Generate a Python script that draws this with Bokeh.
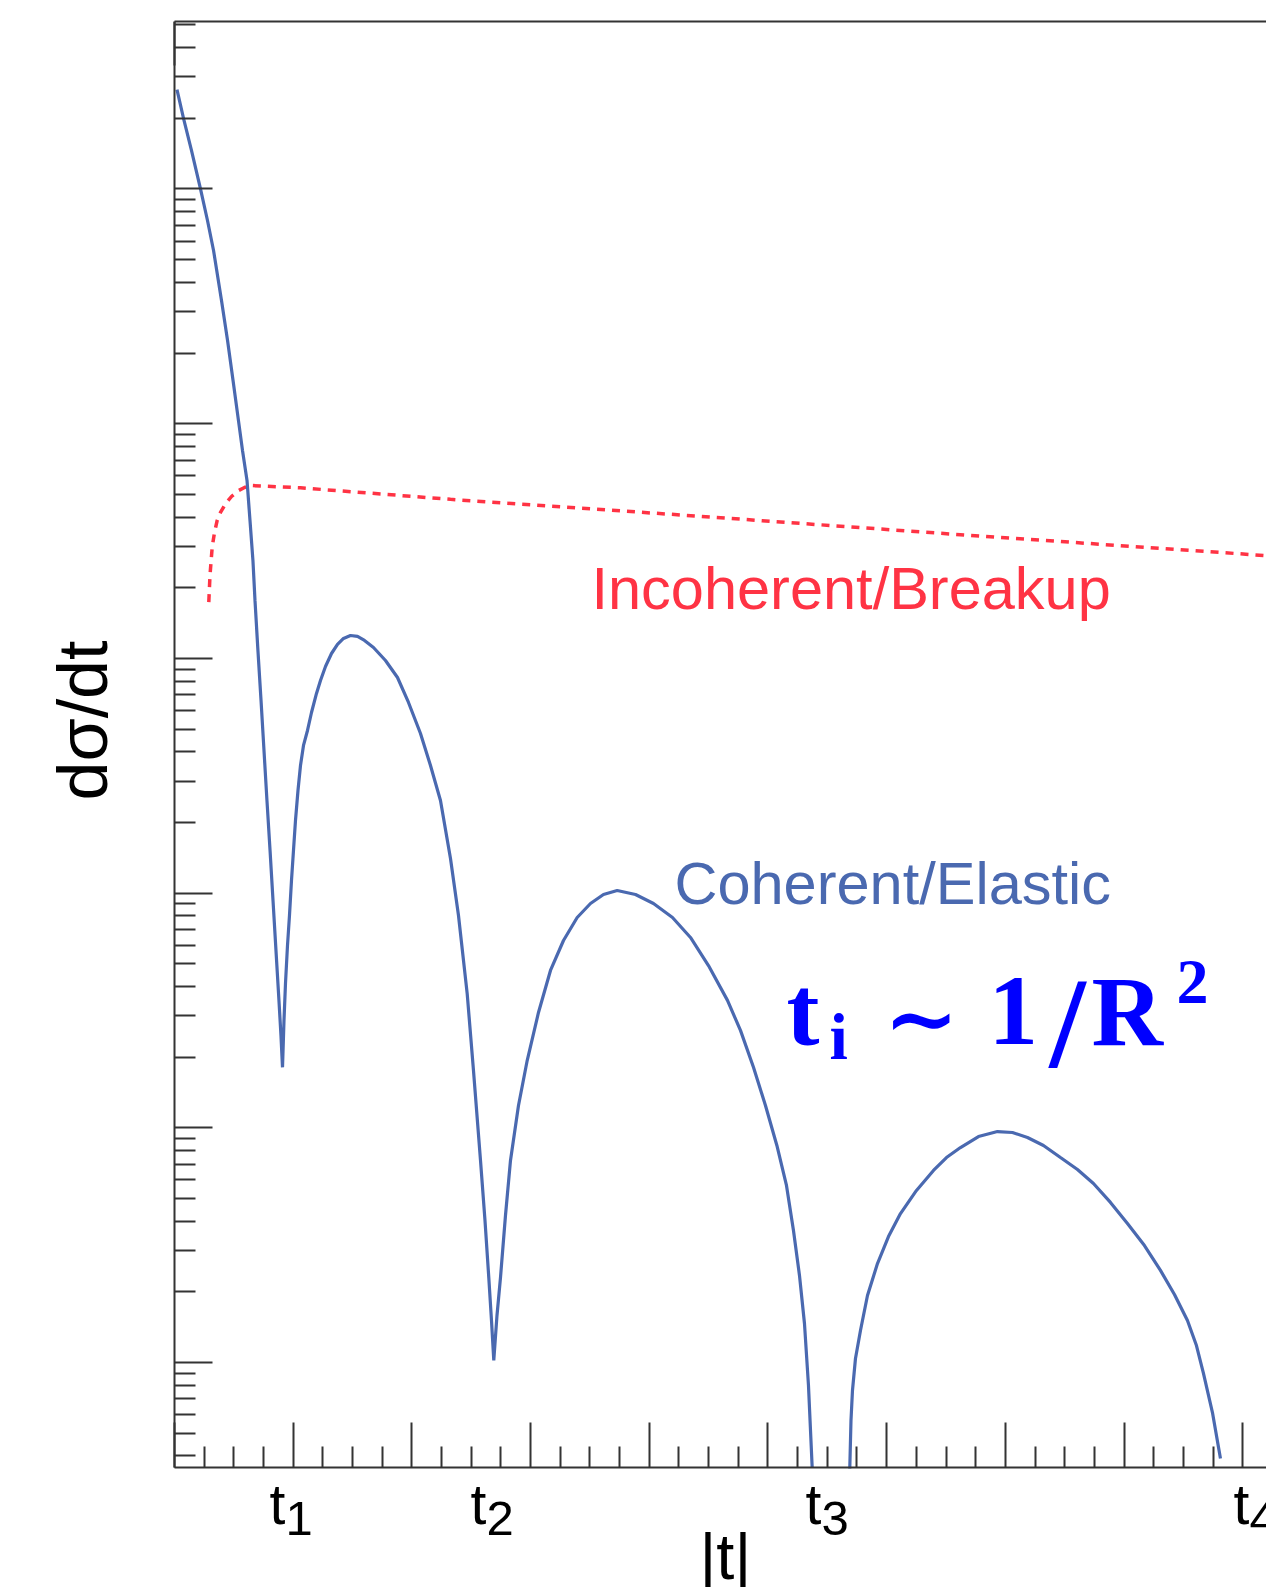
import math
from bokeh.plotting import figure
from bokeh.models import Range1d, FixedTicker, CustomJSTickFormatter, LinearAxis, Label
from bokeh.core.properties import value
from bokeh.embed import file_html
from bokeh.resources import INLINE

# Momentum transfer |t| in arbitrary units (one major tick per unit)
# and dσ/dt in arbitrary units on a logarithmic scale.

# Coherent / elastic diffractive cross section (diffraction pattern);
# the third minimum falls below the plotted range (nan = off scale).
coh_t = [0.021, 0.076, 0.143, 0.219, 0.278, 0.329, 0.396, 0.447, 0.493, 0.539,
         0.573, 0.611, 0.636, 0.661, 0.678, 0.703, 0.729, 0.754, 0.779, 0.805,
         0.830, 0.855, 0.880, 0.897, 0.910,
         0.9225, 0.9351, 0.9520, 0.9688, 0.9857, 1.0025, 1.0194, 1.0404, 1.0615,
         1.0868, 1.1205, 1.1542, 1.1963, 1.2300, 1.2721, 1.3227, 1.3732, 1.4238,
         1.4827, 1.5417, 1.6007, 1.6765, 1.7776, 1.8787, 1.9714, 2.0725, 2.1567,
         2.2409, 2.3252, 2.3926, 2.4659, 2.5190, 2.5780, 2.6158, 2.6479, 2.6706,
         2.6900,
         2.7169, 2.7464, 2.7885, 2.8307, 2.8981, 2.9714, 3.0666, 3.1676, 3.2772,
         3.3926, 3.5046, 3.6141, 3.7296, 3.8838, 4.0354, 4.1955, 4.3471, 4.4987,
         4.6588, 4.7683, 4.8778, 4.9789, 5.0750, 5.1559, 5.2148, 5.2654, 5.3075,
         5.3412, 5.3724, 5.531,
         5.6892, 5.6993, 5.7119, 5.7372, 5.7793, 5.8383, 5.9225, 6.0152, 6.1163,
         6.2511, 6.3943, 6.5038, 6.6218, 6.7734, 6.9335, 7.0598, 7.1862, 7.3210,
         7.4642, 7.6074, 7.7422, 7.8854, 8.0286, 8.1719, 8.3067, 8.4246, 8.5341,
         8.6099, 8.6689, 8.7447, 8.8121]
coh_ds = [2.65e5, 2.00e5, 1.46e5, 1.00e5, 7.34e4, 5.47e4, 3.35e4, 2.26e4, 1.53e4, 1.03e4,
          7.69e3, 5.73e3, 3.87e3, 2.61e3, 1.77e3, 1.08e3, 662, 405, 248, 152,
          93.0, 56.9, 34.9, 24.7, 18.1,
          28.65, 41.19, 59.8, 80.3, 113.2, 151.9, 203.9, 273.6, 349.7,
          425.6, 493.0, 588.1, 708.8, 805.3, 923.6, 1049, 1147, 1216,
          1252, 1240, 1192, 1113, 979.7, 829.1, 648.8, 478.6, 349.7,
          248.0, 140.4, 80.3, 37.3, 17.54, 7.26, 4.03, 2.30, 1.51,
          1.02,
          1.586, 2.30, 4.23, 7.26, 12.45, 19.35, 31.0, 46.8, 62.8,
          78.7, 90.3, 98.6, 102.6, 98.6, 90.3, 78.7, 64.7, 49.1,
          34.9, 26.0, 18.1, 12.45, 8.41, 5.68, 3.65, 2.35, 1.466,
          0.798, 0.357, float("nan"),
          0.3534, 0.566, 0.760, 1.040, 1.369, 1.930, 2.64, 3.44, 4.31,
          5.41, 6.58, 7.47, 8.24, 9.18, 9.64, 9.55, 9.09, 8.41,
          7.47, 6.64, 5.79, 4.81, 3.91, 3.15, 2.47, 1.949, 1.51,
          1.181, 0.898, 0.612, 0.390]

# Incoherent / breakup cross section
inc_t = [0.2890, 0.2990, 0.3176, 0.3370, 0.3597, 0.3875, 0.4297, 0.4802, 0.5417,
         0.5897, 0.6403, 1.061, 2.325, 4.431, 6.537, 9.2]
inc_ds = [1736, 2255, 2978, 3440, 3870, 4184, 4557, 4895, 5193,
          5348, 5453, 5330, 4760, 4030, 3388, 2740]

# Plot region and axis ticks
T_MIN, T_MAX = 0.0, 9.2
DS_MIN, DS_MAX = 0.357, 5.17e5
x_major = list(range(0, 10))
x_minor = [m + q / 4 for m in range(0, 10) for q in (1, 2, 3)]
y_major = [1, 10, 100, 1e3, 1e4, 1e5]
y_minor = [k * 10.0 ** e for e in range(-1, 6) for k in range(2, 10)
           if DS_MIN <= k * 10.0 ** e <= DS_MAX]

# Dip labels t1..t4 along |t|
dip_names = ["1", "2", "3", "4"]
dip_t_x = [0.800, 2.494, 5.316, 8.922]
dip_sub_x = [0.935, 2.628, 5.451, 9.056]

AXIS = "#333333"
BLUE = "#4a69b0"
RED = "#ff3344"
FORMULA = "#0000ff"
SANS = "Liberation Sans"
SERIF = "Liberation Serif"

# the frame spans the whole page; the axes sit at fixed data positions
p = figure(width=1266, height=1587, y_axis_type="log",
           x_range=Range1d(-1.4659, T_MAX), y_range=Range1d(0.1100, DS_MAX),
           output_backend="svg", toolbar_location=None,
           min_border_left=0, min_border_right=0,
           min_border_top=21, min_border_bottom=0)
p.outline_line_color = None
p.xgrid.visible = False
p.ygrid.visible = False
p.background_fill_color = "white"
p.border_fill_color = "white"


def style_axis(ax, tick_in, minor_in):
    ax.formatter = CustomJSTickFormatter(code="return ''")
    ax.major_label_text_font_size = "1px"
    ax.major_label_standoff = 0
    ax.major_tick_in = tick_in
    ax.major_tick_out = 0
    ax.minor_tick_in = minor_in
    ax.minor_tick_out = 0
    ax.axis_line_color = AXIS
    ax.axis_line_width = 2
    ax.major_tick_line_color = AXIS
    ax.major_tick_line_width = 2
    ax.minor_tick_line_color = AXIS
    ax.minor_tick_line_width = 2


# |t| axis: ticks pointing up into the plot, no numbers
xa = p.xaxis[0]
xa.ticker = FixedTicker(ticks=x_major, minor_ticks=x_minor)
style_axis(xa, 45, 21)
xa.fixed_location = DS_MIN
xa.bounds = (T_MIN, T_MAX)

# dσ/dt axis: logarithmic, ticks pointing right, no numbers
ya = p.yaxis[0]
ya.ticker = FixedTicker(ticks=y_major, minor_ticks=y_minor)
style_axis(ya, 38, 21)
ya.fixed_location = T_MIN
ya.bounds = (DS_MIN, DS_MAX)

# top frame line
top = LinearAxis(ticker=FixedTicker(ticks=[0], minor_ticks=[]))
style_axis(top, 44, 0)
top.bounds = (T_MIN, T_MAX)
p.add_layout(top, "above")

# curves
p.line(inc_t, inc_ds, line_color=RED, line_width=3.5, line_dash="8 7")
p.line(coh_t, coh_ds, line_color=BLUE, line_width=3.2)

# curve names
for s, x, y, c in [("Incoherent/Breakup", 3.513, 1978, RED),
                   ("Coherent/Elastic", 4.212, 109.4, BLUE)]:
    p.text(x=[x], y=[y], text=[s], text_font=value(SANS),
           text_font_size=value("59.5px"), text_color=c,
           text_align="left", text_baseline="middle")


def label(x, y, text, size, color, font=SANS, style="normal", angle=0.0):
    p.add_layout(Label(x=x, y=y, text=text, text_font=font,
                       text_font_size=f"{size}px", text_color=color,
                       text_font_style=style, text_align="left",
                       text_baseline="middle", angle=angle))


# axis titles
label(-0.769, 248, "dσ/dt", 70, "black", angle=math.pi / 2)
label(4.423, 0.149, "|t|", 65, "black")

# t1..t4 under the axis
for name, tx, sx in zip(dip_names, dip_t_x, dip_sub_x):
    label(tx, 0.2501, "t", 57, "black")
    label(sx, 0.2164, name, 49, "black")

# t_i ~ 1/R^2
label(5.156, 31.15, "t", 99, FORMULA, SERIF, "bold")
label(5.518, 24.57, "i", 66, FORMULA, SERIF, "bold")
label(5.973, 29.43, "∼", 90, FORMULA, "DejaVu Serif", "bold")
label(6.858, 31.15, "1", 99, FORMULA, SERIF, "bold")
label(7.372, 28.07, "/", 130, FORMULA, SERIF, "bold")
label(7.725, 31.15, "R", 99, FORMULA, SERIF, "bold")
label(8.441, 41.85, "2", 64, FORMULA, SERIF, "bold")

open("out.html", "w").write(file_html(p, INLINE))
